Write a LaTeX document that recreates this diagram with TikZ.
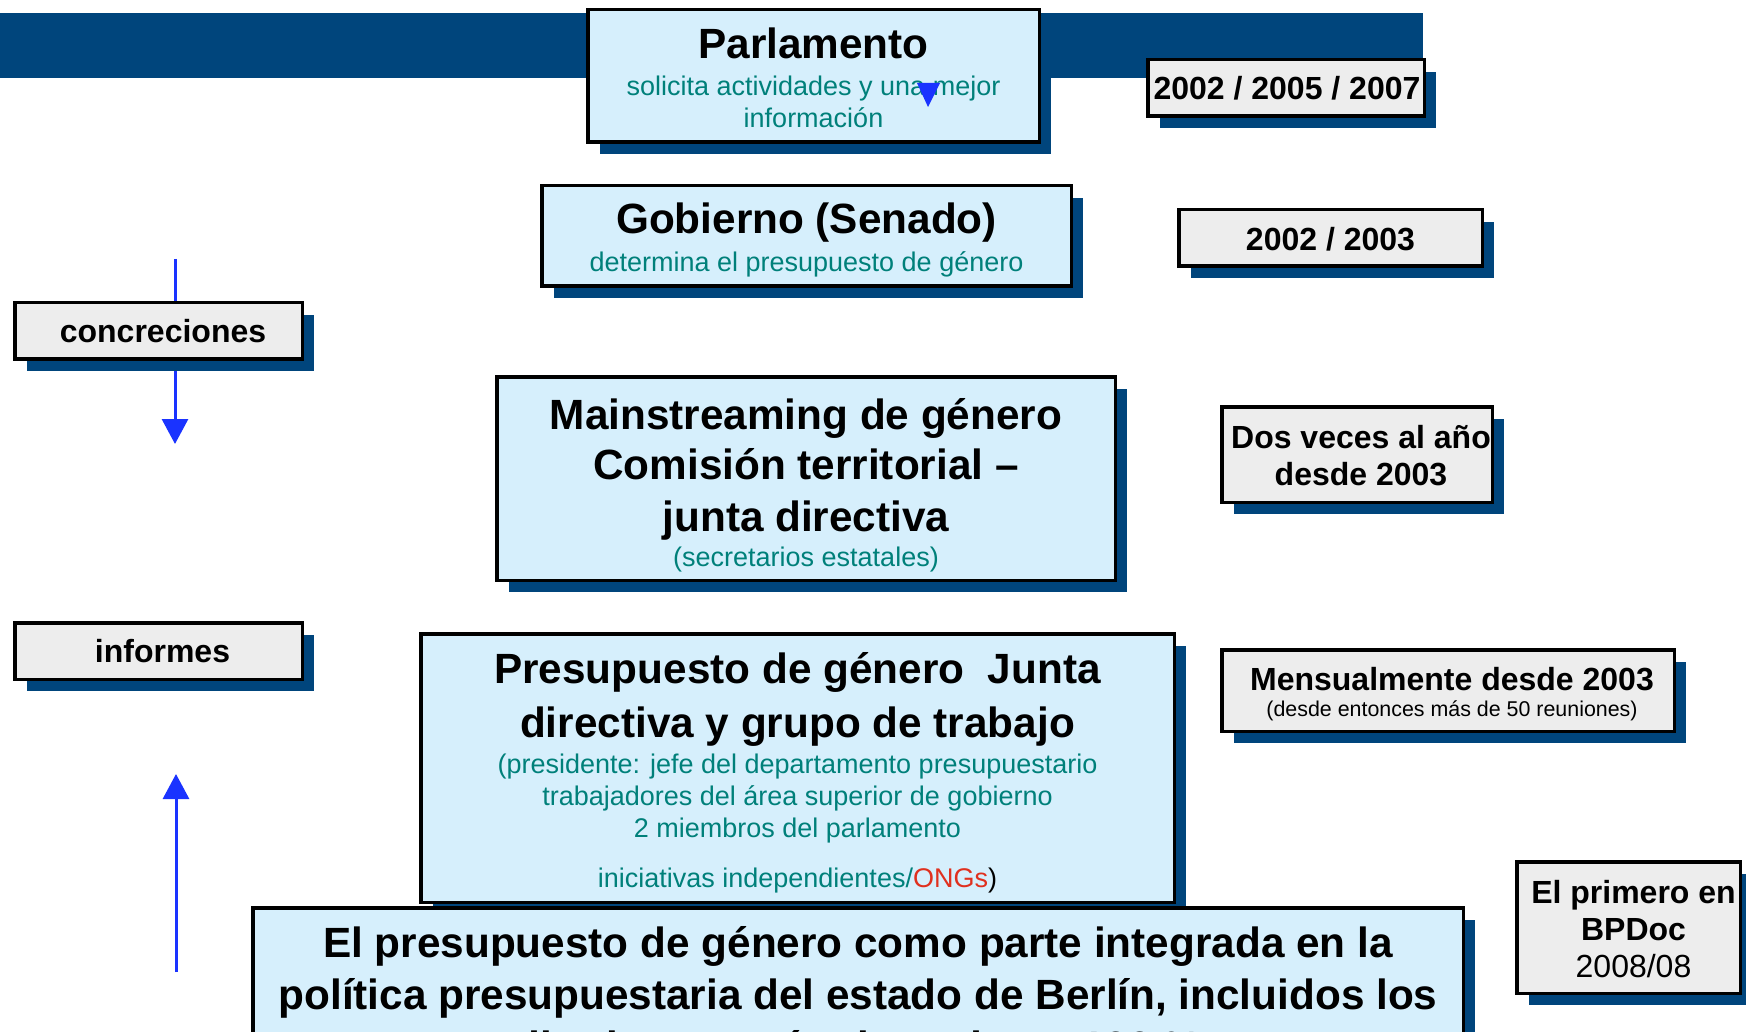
\documentclass[tikz,border=0pt]{standalone}
\usepackage{fontspec}
\setmainfont{Liberation Sans}
\usetikzlibrary{shadows,arrows.meta}
\definecolor{shadowblue}{RGB}{0,69,124}
\definecolor{boxblue}{RGB}{214,239,252}
\definecolor{boxgray}{RGB}{237,237,237}
\definecolor{tealtext}{RGB}{0,128,122}
\definecolor{arrowblue}{RGB}{26,51,255}
\definecolor{ongred}{RGB}{224,48,30}
\begin{document}
\begin{tikzpicture}[x=1pt,y=-1pt,
  panel/.style={draw=black, line width=3.5pt, inner sep=0pt,
    drop shadow={shadow xshift=12pt, shadow yshift=-12pt, fill=shadowblue, opacity=1}},
  bluepanel/.style={panel, fill=boxblue},
  graypanel/.style={panel, fill=boxgray},
  bigtitle/.style={anchor=base, inner sep=0pt, font=\fontsize{42.3}{50}\selectfont\bfseries},
  subtext/.style={anchor=base, inner sep=0pt, text=tealtext, font=\fontsize{27}{32}\selectfont},
  boxlabel/.style={anchor=base, inner sep=0pt, font=\fontsize{32}{38}\selectfont\bfseries},
  flow/.style={draw=arrowblue, line width=3pt, -{Triangle[width=26pt,length=25pt]}}
]
\useasboundingbox (0,0) rectangle (1746,1032);
\clip (0,0) rectangle (1746,1032);
\fill[white] (0,0) rectangle (1746,1032);
% banner
\fill[shadowblue] (0,13) rectangle (1423,78);

% arrows on the left
\coordinate (dtop) at (175,259);
\coordinate (dbot) at (175,444);
\coordinate (ubot) at (176,972);
\coordinate (utop) at (176,774);
\draw[flow] (dtop) -- (dbot);
\draw[flow] (ubot) -- (utop);

% boxes
\node[bluepanel, minimum width=451.5, minimum height=132.5] (parl) at (813.5,76) {};
\node[graypanel, minimum width=276.5, minimum height=56.5] (y1) at (1286,88) {};
\node[bluepanel, minimum width=529.5, minimum height=100.5] (gob) at (806.5,236) {};
\node[graypanel, minimum width=303.5, minimum height=56.5] (y2) at (1330.5,238) {};
\node[graypanel, minimum width=287.5, minimum height=56.5] (conc) at (158.5,331) {};
\node[bluepanel, minimum width=618.5, minimum height=203.5] (mains) at (806,478.5) {};
\node[graypanel, minimum width=270.5, minimum height=95.5] (dos) at (1357,454.5) {};
\node[graypanel, minimum width=287.5, minimum height=56.5] (inf) at (158.5,651) {};
\node[bluepanel, minimum width=753.5, minimum height=268.5] (pres) at (797.5,768) {};
\node[graypanel, minimum width=452.5, minimum height=81.5] (mens) at (1448,690.5) {};
\node[bluepanel, minimum width=1210.5, minimum height=230] (bot) at (858,1023) {};
\node[graypanel, minimum width=223.5, minimum height=131.5] (prim) at (1628.5,927.5) {};

% texts
\node[bigtitle] (parl-t1) at (813.5,59) {Parlamento};
\node[subtext] (parl-t2) at (813.5,96) {solicita actividades y una mejor};
\node[subtext] (parl-t3) at (813.5,128) {información};
\fill[arrowblue] (917,83) -- (940,83) -- (928,107) -- cycle;

\node[boxlabel] (y1-t) at (1287,100) {2002 / 2005 / 2007};

\node[bigtitle] (gob-t1) at (806.5,234) {Gobierno (Senado)};
\node[subtext] (gob-t2) at (806.5,272) {determina el presupuesto de género};

\node[boxlabel] (y2-t) at (1330.5,251) {2002 / 2003};

\node[boxlabel] (conc-t) at (163,342) {concreciones};

\node[bigtitle] (mains-t1) at (806,429) {Mainstreaming de género};
\node[bigtitle] (mains-t2) at (806,479) {Comisión territorial –};
\node[bigtitle] (mains-t3) at (806,531) {junta directiva};
\node[subtext] (mains-t4) at (806,566) {(secretarios estatales)};

\node[boxlabel] (dos-t1) at (1361,448) {Dos veces al año};
\node[boxlabel] (dos-t2) at (1361,485) {desde 2003};

\node[boxlabel] (inf-t) at (162.5,662) {informes};

\node[bigtitle] (pres-t1) at (797.5,683) {Presupuesto de género\ \ Junta};
\node[bigtitle] (pres-t2) at (797.5,737) {directiva y grupo de trabajo};
\node[subtext] (pres-t3) at (797.5,773) {(presidente: jefe del departamento presupuestario};
\node[subtext] (pres-t4) at (797.5,805) {trabajadores del área superior de gobierno};
\node[subtext] (pres-t5) at (797.5,837) {2 miembros del parlamento};
\node[subtext] (pres-t6) at (797.5,887) {iniciativas independientes/\textcolor{ongred}{ONGs}\textcolor{black}{)}};

\node[boxlabel] (mens-t1) at (1452,690) {Mensualmente desde 2003};
\node[anchor=base, inner sep=0pt, font=\fontsize{21.4}{25}\selectfont] (mens-t2) at (1452,716) {(desde entonces más de 50 reuniones)};

\node[bigtitle] (bot-t1) at (858,957) {El presupuesto de género como parte integrada en la};
\node[bigtitle] (bot-t2) at (858,1009) {política presupuestaria del estado de Berlín, incluidos los};
\node[bigtitle] (bot-t3) at (858,1061) {distritos, en términos de un 100 \%};

\node[boxlabel] (prim-t1) at (1633.5,903) {El primero en};
\node[boxlabel] (prim-t2) at (1633.5,940) {BPDoc};
\node[anchor=base, inner sep=0pt, font=\fontsize{32}{38}\selectfont] (prim-t3) at (1633.5,977) {2008/08};
\end{tikzpicture}
\end{document}
